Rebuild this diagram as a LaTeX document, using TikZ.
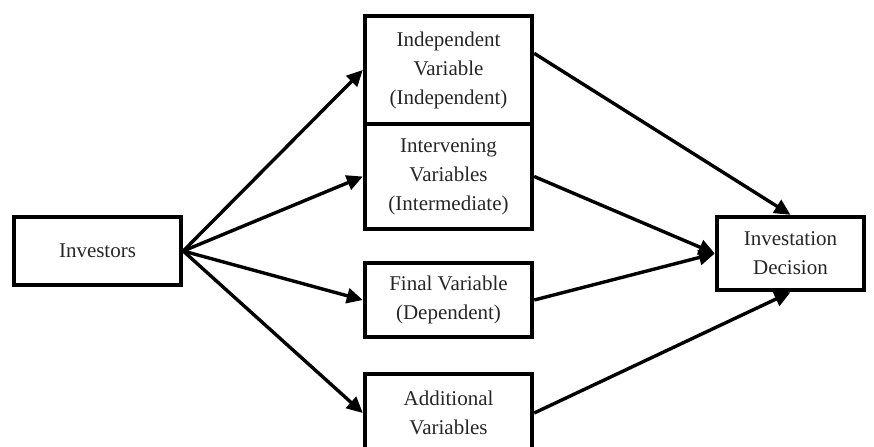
\documentclass[tikz,border=0pt]{standalone}
\usepackage{fontspec}
\setmainfont{Liberation Serif}
\usetikzlibrary{arrows.meta}
\begin{document}
\begin{tikzpicture}[x=0.5pt, y=-0.5pt]

\tikzstyle{every node} = [rectangle, draw, line width=2.2pt, align=center, inner sep=0pt, font=\fontsize{10.5}{14.5}\selectfont, text=black!85]
\tikzstyle{link} = [line width=1.7pt, -{Triangle[length=8pt, width=7.5pt]}]

\useasboundingbox (0,0) rectangle (874,446);
\clip (0,0) rectangle (874,446);

\node[minimum width=83.5pt, minimum height=34pt] (inv) at (97.5,251) {Investors};

\node[minimum width=83.5pt, minimum height=54pt] (b1) at (448.5,70) {Independent\\Variable\\(Independent)};
\node[minimum width=83.5pt, minimum height=52.5pt] (b2) at (448.5,176.5) {Intervening\\Variables\\(Intermediate)};
\node[minimum width=83.5pt, minimum height=37pt] (fin) at (448.5,300) {Final Variable\\(Dependent)};
\node[minimum width=83.5pt, minimum height=39pt] (add) at (448.5,413) {Additional\\Variables};

\node[minimum width=73.5pt, minimum height=36.5pt] (dec) at (790.5,253.5) {Investation\\Decision};

\draw[link] (inv.east) -- (b1.west);
\draw[link] (inv.east) -- (b2.west);
\draw[link] (inv.east) -- (fin.west);
\draw[link] (inv.east) -- (add.west);

\draw[link] (b1.11) -- (dec.north);
\draw[link] (b2.east) -- (dec.west);
\draw[link] (fin.east) -- (dec.west);
\draw[link] (add.east) -- (dec.south);
\end{tikzpicture}
\end{document}
